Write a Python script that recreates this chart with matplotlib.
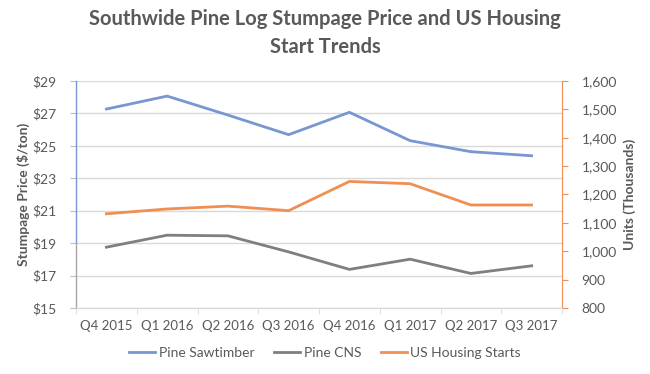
import matplotlib
matplotlib.use('Agg')
import matplotlib.pyplot as plt
from matplotlib.ticker import FuncFormatter

plt.rcParams['font.family'] = ['Lato', 'DejaVu Sans']

quarters = ['Q4 2015', 'Q1 2016', 'Q2 2016', 'Q3 2016',
            'Q4 2016', 'Q1 2017', 'Q2 2017', 'Q3 2017']
sawtimber = [27.27, 28.07, 26.9, 25.69, 27.07, 25.32, 24.64, 24.39]
cns = [18.75, 19.49, 19.45, 18.46, 17.38, 18.01, 17.13, 17.6]
housing = [1132, 1149, 1159, 1143, 1246, 1238, 1163, 1163]

txt = '#595959'
grid = '#d9d9d9'
cBlue = '#7896d2'
cGray = '#7f7f7f'
cOrange = '#ef8f54'

fig = plt.figure(figsize=(6.5, 3.74), dpi=100)
ax = fig.add_axes([0.117, 0.1765, 0.7476, 0.6069])
ax2 = ax.twinx()

xs = list(range(len(quarters)))
l1, = ax.plot(xs, sawtimber, color=cBlue, lw=2, label='Pine Sawtimber')
l2, = ax.plot(xs, cns, color=cGray, lw=2, label='Pine CNS')
l3, = ax2.plot(xs, housing, color=cOrange, lw=2, label='US Housing Starts')

ax.set_ylim(15, 29)
ax.set_yticks(range(15, 30, 2))
ax.yaxis.set_major_formatter(FuncFormatter(lambda v, p: '$%d' % v))
ax2.set_ylim(800, 1600)
ax2.set_yticks(range(800, 1601, 100))
ax2.yaxis.set_major_formatter(FuncFormatter(lambda v, p: '{:,.0f}'.format(v)))

ax.set_xlim(-0.5, 7.5)
ax.set_xticks(xs)
ax.set_xticklabels(quarters)
ax.set_xticks([i - 0.5 for i in range(len(quarters) + 1)], minor=True)
ax.tick_params(axis='x', which='major', length=0, pad=9, labelsize=9.5, labelcolor=txt)
ax.tick_params(axis='x', which='minor', length=4, color=grid, direction='out')
ax.tick_params(axis='y', length=4, color='#bfbfbf', labelsize=10, labelcolor=txt, pad=10)
ax2.tick_params(axis='y', length=4, color=cOrange, labelsize=10, labelcolor=txt, pad=10)

ax.grid(axis='y', color=grid, lw=1)
ax.set_axisbelow(True)

for a in (ax, ax2):
    a.spines['top'].set_visible(False)
    a.spines['left'].set_visible(False)
    a.spines['right'].set_visible(False)
    a.spines['bottom'].set_color(grid)
ax2.spines['right'].set_visible(True)
ax2.spines['right'].set_color(cOrange)

# left axis line: blue on top part, gray below
tr = ax.get_yaxis_transform()
ax.plot([0, 0], [19, 29], color=cBlue, lw=1, transform=tr, clip_on=False)
ax.plot([0, 0], [15, 19], color='#a6a6a6', lw=1, transform=tr, clip_on=False)

ax.set_ylabel('Stumpage Price ($/ton)', fontsize=10, fontweight='bold', color=txt, labelpad=2)
ax2.set_ylabel('Units (Thousands)', fontsize=10, fontweight='bold', color=txt, labelpad=5)

fig.suptitle('Southwide Pine Log Stumpage Price and US Housing\nStart Trends',
             x=0.5, y=0.975, fontsize=14.5, fontweight='bold', color=txt,
             linespacing=1.45)

fig.legend(handles=[l1, l2, l3], loc='center', bbox_to_anchor=(0.5, 0.056),
           ncol=3, frameon=False, fontsize=10, labelcolor=txt,
           handlelength=1.9, handletextpad=0.25, columnspacing=1.4)

fig.savefig('out.png', dpi=100)
